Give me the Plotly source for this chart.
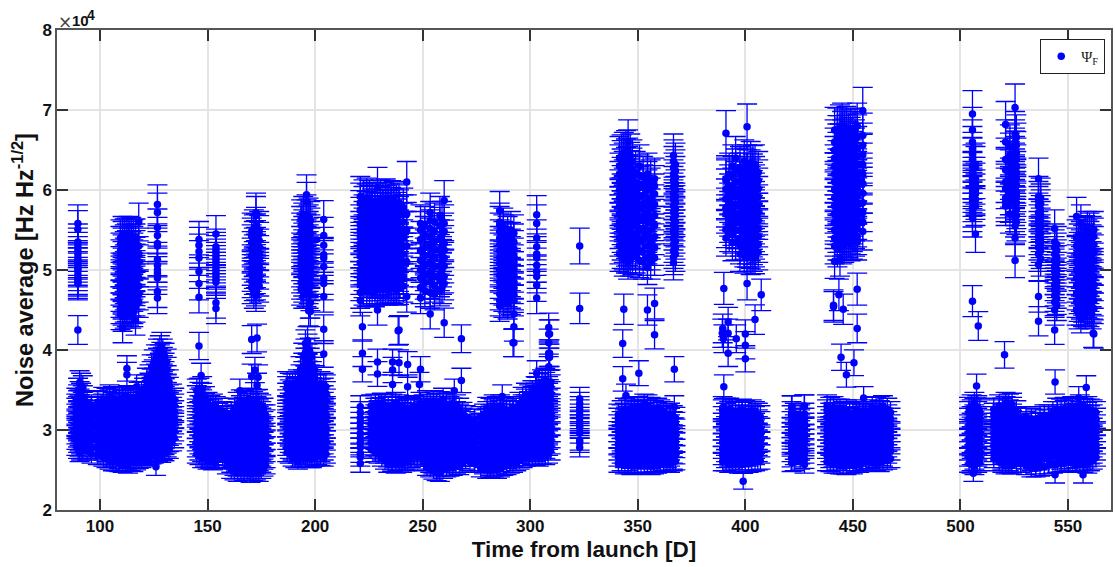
import plotly.graph_objects as go

# values are in units of 10^4; each row: (day, [noise averages read at that day])
low_a = [
 (89.0,[2.80,2.88,2.95,3.02,3.06,3.13,3.19,3.26,3.31,3.38]),
 (90.5,[2.72,2.79,2.86,2.93,3.00,3.08,3.15,3.22,3.30,3.37,3.46,3.59]),
 (92.0,[2.76,2.84,2.90,2.98,3.04,3.11,3.17,3.24,3.33,3.41,3.53]),
 (96.0,[2.70,2.78,2.87,2.94,3.02,3.09,3.16,3.23,3.30]),
 (101.5,[2.66,2.74,2.82,2.90,2.97,3.03,3.10,3.17,3.24,3.31,3.39]),
 (104.5,[2.62,2.70,2.79,2.86,2.94,3.01,3.08,3.15,3.23,3.30,3.37,3.42]),
 (107.5,[2.60,2.68,2.76,2.84,2.91,2.99,3.06,3.14,3.21,3.28,3.36]),
 (110.5,[2.58,2.65,2.73,2.82,2.90,2.97,3.05,3.12,3.20,3.27,3.35,3.40]),
 (113.0,[2.57,2.64,2.72,2.81,2.88,2.96,3.04,3.11,3.19,3.26,3.33,3.41]),
 (115.5,[2.59,2.67,2.75,2.83,2.91,2.98,3.06,3.13,3.21,3.29,3.36]),
 (118.0,[2.63,2.71,2.78,2.86,2.93,3.00,3.08,3.15,3.22,3.30,3.38,3.45]),
 (120.5,[2.66,2.73,2.81,2.88,2.96,3.03,3.11,3.18,3.26,3.34,3.42,3.50]),
 (123.0,[2.68,2.76,2.83,2.91,2.99,3.06,3.14,3.22,3.30,3.38,3.46,3.56,3.66]),
 (125.0,[2.70,2.78,2.86,2.94,3.02,3.10,3.18,3.26,3.34,3.43,3.52,3.62,3.72,3.84]),
 (127.0,[2.72,2.80,2.88,2.97,3.05,3.13,3.21,3.30,3.38,3.47,3.56,3.65,3.75,3.86,3.97]),
 (128.5,[2.71,2.79,2.87,2.96,3.04,3.12,3.20,3.28,3.37,3.46,3.54,3.63,3.73,3.83,3.93,4.05]),
 (130.0,[2.73,2.81,2.89,2.98,3.06,3.14,3.23,3.31,3.40,3.50,3.60,3.70,3.80,3.92]),
 (132.0,[2.76,2.85,2.93,3.01,3.09,3.17,3.25,3.33,3.42,3.51,3.60]),
 (133.5,[2.86,2.95,3.04,3.12,3.20,3.27,3.35,3.43]),
]
low_a2 = [
 (89.8,[2.76,2.84,2.91,2.99,3.04,3.10,3.16,3.23,3.28,3.35,3.42,3.50]),
 (91.2,[2.74,2.82,2.88,2.96,3.02,3.09,3.20,3.27,3.35,3.44,3.56]),
 (94.0,[2.74,2.82,2.91,2.98,3.05,3.12,3.19,3.27,3.34]),
 (99.0,[2.68,2.76,2.84,2.92,3.00,3.07,3.14,3.21,3.28,3.35]),
 (103.0,[2.64,2.72,2.84,2.92,3.00,3.06,3.13,3.20,3.27,3.34,3.38]),
 (106.0,[2.60,2.66,2.74,2.82,2.90,2.97,3.04,3.11,3.19,3.26,3.33,3.40]),
 (109.0,[2.59,2.63,2.71,2.80,2.88,2.95,3.03,3.10,3.17,3.25,3.32,3.39]),
 (111.8,[2.61,2.69,2.77,2.86,2.94,3.01,3.08,3.16,3.23,3.31,3.37]),
 (114.3,[2.60,2.68,2.76,2.85,2.92,3.00,3.07,3.15,3.23,3.30,3.38]),
 (116.8,[2.61,2.70,2.79,2.87,2.95,3.02,3.10,3.17,3.25,3.33,3.40]),
 (119.3,[2.64,2.69,2.75,2.84,2.92,2.99,3.06,3.13,3.20,3.28,3.36,3.46]),
 (121.8,[2.67,2.77,2.85,2.92,3.00,3.07,3.15,3.22,3.30,3.38,3.46,3.54,3.62]),
 (124.0,[2.69,2.72,2.80,2.87,2.95,3.02,3.10,3.18,3.26,3.34,3.42,3.51,3.61,3.70,3.78]),
 (126.0,[2.71,2.74,2.82,2.90,2.98,3.06,3.14,3.22,3.30,3.39,3.48,3.57,3.67,3.78,3.90]),
 (127.8,[2.76,2.84,2.92,3.01,3.09,3.17,3.25,3.34,3.42,3.51,3.60,3.69,3.80,3.90,4.01]),
 (129.2,[2.75,2.83,2.91,3.00,3.08,3.16,3.24,3.32,3.41,3.50,3.58,3.67,3.77,3.87,3.97]),
 (131.0,[2.78,2.83,2.95,3.03,3.11,3.19,3.27,3.35,3.45,3.55,3.65,3.75,3.85]),
 (134.5,[2.90,2.99,3.08,3.16,3.23,3.31,3.38]),
]
low_b = [
 (145.0,[2.70,2.78,2.86,2.94,3.02,3.10,3.17,3.25,3.33,3.41,3.49]),
 (147.5,[2.64,2.72,2.80,2.88,2.96,3.04,3.12,3.20,3.28,3.36,3.44,3.52]),
 (150.0,[2.62,2.70,2.78,2.85,2.93,3.01,3.09,3.17,3.25,3.33]),
 (152.5,[2.61,2.68,2.76,2.84,2.92,3.00,3.08,3.16,3.24,3.31]),
 (155.0,[2.63,2.71,2.80,2.88,2.96,3.04,3.12,3.20,3.26]),
 (161.0,[2.50,2.58,2.66,2.74,2.82,2.90,2.98,3.06,3.14,3.21]),
 (164.0,[2.46,2.53,2.61,2.69,2.77,2.85,2.93,3.01,3.09,3.17,3.25,3.33]),
 (167.0,[2.47,2.55,2.63,2.71,2.79,2.87,2.95,3.03,3.11,3.19,3.27,3.35]),
 (170.0,[2.45,2.52,2.60,2.68,2.76,2.84,2.92,3.00,3.08,3.16,3.24,3.32,3.38]),
 (172.5,[2.48,2.56,2.64,2.72,2.80,2.88,2.96,3.04,3.12,3.20,3.28,3.36]),
 (175.0,[2.50,2.58,2.66,2.74,2.82,2.90,2.98,3.06,3.14,3.22,3.30]),
 (177.0,[2.56,2.64,2.72,2.80,2.88,2.96,3.04,3.12,3.18]),
]
low_b2 = [
 (146.2,[2.68,2.74,2.82,2.90,2.98,3.06,3.14,3.21,3.29,3.37,3.45,3.50]),
 (148.8,[2.66,2.76,2.84,2.92,3.00,3.08,3.16,3.24,3.32,3.40]),
 (151.3,[2.63,2.66,2.74,2.81,2.89,2.97,3.05,3.13,3.21,3.29]),
 (153.8,[2.62,2.64,2.72,2.80,2.88,2.96,3.04,3.12,3.20,3.28]),
 (157.0,[2.67,2.75,2.84,2.92,3.00,3.08,3.16,3.22]),
 (159.0,[2.56,2.63,2.71,2.79,2.87,2.95,3.03,3.11,3.17]),
 (162.5,[2.48,2.54,2.62,2.70,2.78,2.86,2.94,3.02,3.10,3.18,3.26]),
 (165.5,[2.50,2.57,2.65,2.73,2.81,2.89,2.97,3.05,3.13,3.21,3.29,3.36]),
 (168.5,[2.49,2.59,2.67,2.75,2.83,2.91,2.99,3.07,3.15,3.23,3.31]),
 (171.2,[2.47,2.54,2.62,2.70,2.78,2.86,2.94,3.02,3.10,3.18,3.26,3.34]),
 (173.8,[2.46,2.60,2.68,2.76,2.84,2.92,3.00,3.08,3.16,3.24,3.32]),
 (176.0,[2.53,2.62,2.70,2.78,2.86,2.94,3.02,3.10,3.18,3.26]),
]
low_c = [
 (187.0,[2.72,2.80,2.88,2.96,3.04,3.12,3.20,3.28,3.36,3.44,3.52,3.58]),
 (189.5,[2.66,2.74,2.82,2.90,2.98,3.06,3.14,3.22,3.30,3.38,3.46,3.55]),
 (192.0,[2.62,2.70,2.78,2.87,2.95,3.03,3.11,3.19,3.27,3.35,3.43,3.51,3.60]),
 (194.5,[2.68,2.76,2.84,2.92,3.01,3.09,3.17,3.26,3.34,3.42,3.51,3.60,3.70,3.80,3.92]),
 (196.5,[2.66,2.74,2.83,2.91,2.99,3.08,3.16,3.25,3.33,3.42,3.51,3.60,3.70,3.80,3.91,4.03,4.12]),
 (198.5,[2.64,2.72,2.80,2.89,2.98,3.06,3.15,3.23,3.32,3.41,3.50,3.60,3.70,3.81,3.92]),
 (201.0,[2.68,2.76,2.85,2.93,3.02,3.10,3.19,3.27,3.36,3.45,3.54]),
 (204.0,[2.66,2.74,2.82,2.91,2.99,3.07,3.16,3.24,3.33,3.41,3.50,3.56]),
]
low_c2 = [
 (188.2,[2.70,2.76,2.84,2.92,3.00,3.08,3.16,3.24,3.32,3.40,3.48,3.56]),
 (190.8,[2.64,2.72,2.80,2.86,2.94,3.02,3.10,3.18,3.26,3.34,3.42,3.50,3.58]),
 (193.2,[2.66,2.74,2.83,2.91,2.99,3.07,3.15,3.23,3.31,3.39,3.47,3.56,3.66,3.76]),
 (195.5,[2.65,2.72,2.80,2.88,2.97,3.05,3.13,3.22,3.30,3.38,3.47,3.56,3.65,3.75,3.86,3.97,4.08]),
 (197.5,[2.64,2.70,2.78,2.87,2.95,3.04,3.12,3.21,3.29,3.38,3.46,3.55,3.65,3.75,3.86,3.98]),
 (199.8,[2.66,2.78,2.84,2.94,3.02,3.11,3.19,3.28,3.37,3.46,3.55,3.65,3.75]),
 (202.5,[2.67,2.72,2.81,2.89,2.97,3.06,3.14,3.23,3.31,3.40,3.49,3.58]),
 (205.0,[2.70,2.78,2.87,2.95,3.03,3.12,3.20,3.28,3.37,3.46,3.54]),
]
low_d = [
 (221.0,[2.58,2.66,2.71,2.78,2.84,2.90,2.96,3.03,3.09,3.15,3.22,3.29]),
 (228.0,[2.72,2.80,2.88,2.95,3.03,3.10,3.18,3.26,3.31]),
 (231.0,[2.66,2.74,2.82,2.90,2.97,3.05,3.12,3.20,3.27,3.32]),
 (234.0,[2.58,2.65,2.73,2.81,2.89,2.96,3.04,3.12,3.20,3.28]),
 (237.5,[2.57,2.64,2.72,2.80,2.88,2.96,3.04,3.12,3.19,3.27,3.33]),
 (240.5,[2.58,2.66,2.74,2.82,2.90,2.98,3.06,3.14,3.21,3.28]),
 (243.0,[2.62,2.70,2.78,2.86,2.94,3.02,3.10,3.17,3.25]),
 (246.0,[2.68,2.76,2.84,2.92,3.00,3.08,3.16,3.24,3.29]),
 (249.0,[2.68,2.76,2.84,2.92,3.00,3.08,3.16,3.24,3.33]),
 (252.0,[2.54,2.62,2.70,2.78,2.86,2.94,3.02,3.10,3.18,3.26,3.35]),
 (255.0,[2.49,2.56,2.64,2.72,2.80,2.88,2.96,3.04,3.12,3.20,3.28,3.35]),
 (258.0,[2.46,2.54,2.62,2.70,2.78,2.86,2.94,3.02,3.10,3.18,3.26,3.34]),
 (261.0,[2.52,2.60,2.68,2.76,2.84,2.92,3.00,3.08,3.16,3.24,3.32]),
 (264.0,[2.54,2.62,2.70,2.78,2.86,2.94,3.02,3.10,3.18,3.26,3.33]),
 (267.0,[2.55,2.63,2.71,2.79,2.87,2.95,3.03,3.11,3.19,3.26]),
 (270.0,[2.62,2.70,2.78,2.86,2.94,3.02,3.10,3.17]),
 (274.0,[2.58,2.66,2.74,2.82,2.90,2.98,3.06,3.13]),
]
low_d2 = [
 (226.0,[2.76,2.84,2.92,2.99,3.07,3.14,3.22,3.30]),
 (229.5,[2.70,2.78,2.86,2.92,3.00,3.08,3.15,3.23,3.30]),
 (232.5,[2.62,2.70,2.78,2.86,2.94,3.01,3.08,3.16,3.24,3.31]),
 (235.8,[2.59,2.61,2.69,2.77,2.85,2.92,3.00,3.08,3.16,3.24,3.31]),
 (239.0,[2.60,2.68,2.76,2.84,2.92,3.00,3.08,3.16,3.23,3.30]),
 (241.8,[2.60,2.62,2.70,2.78,2.86,2.94,3.02,3.10,3.18,3.25]),
 (244.5,[2.64,2.72,2.80,2.88,2.96,3.04,3.12,3.20,3.27]),
 (247.5,[2.66,2.72,2.80,2.88,2.96,3.04,3.12,3.20,3.28]),
 (250.5,[2.60,2.66,2.74,2.82,2.90,2.98,3.06,3.14,3.22,3.30]),
 (253.5,[2.52,2.58,2.66,2.74,2.82,2.90,2.98,3.06,3.14,3.22,3.31]),
 (256.5,[2.47,2.60,2.68,2.76,2.84,2.92,3.00,3.08,3.16,3.24,3.32]),
 (259.5,[2.50,2.58,2.66,2.74,2.82,2.90,2.98,3.06,3.14,3.22,3.30,3.38]),
 (262.5,[2.53,2.64,2.72,2.80,2.88,2.96,3.04,3.12,3.20,3.28]),
 (265.5,[2.56,2.66,2.74,2.82,2.90,2.98,3.06,3.14,3.22,3.30]),
 (268.5,[2.58,2.66,2.74,2.82,2.90,2.98,3.06,3.14,3.21]),
 (272.0,[2.60,2.66,2.74,2.82,2.90,2.98,3.06,3.13]),
]
low_e = [
 (277.0,[2.52,2.60,2.68,2.76,2.84,2.92,3.00,3.08,3.16]),
 (280.0,[2.50,2.58,2.66,2.74,2.82,2.90,2.98,3.06,3.14,3.22,3.27]),
 (283.0,[2.52,2.60,2.68,2.76,2.84,2.92,3.00,3.08,3.16,3.24,3.30]),
 (286.0,[2.52,2.59,2.67,2.75,2.83,2.91,2.99,3.07,3.15,3.23,3.30]),
 (289.0,[2.55,2.63,2.71,2.79,2.87,2.95,3.03,3.11,3.19,3.25]),
 (292.0,[2.58,2.66,2.74,2.82,2.90,2.98,3.06,3.14,3.22,3.28]),
 (295.0,[2.62,2.70,2.78,2.86,2.94,3.02,3.10,3.18,3.26,3.33]),
 (298.0,[2.66,2.74,2.82,2.90,2.98,3.06,3.14,3.22,3.30,3.37,3.44]),
 (301.0,[2.68,2.76,2.84,2.92,3.00,3.08,3.16,3.24,3.32,3.40,3.47]),
 (304.0,[2.66,2.74,2.82,2.90,2.98,3.06,3.14,3.22,3.30,3.38,3.47,3.56]),
 (307.0,[2.68,2.76,2.84,2.92,3.00,3.08,3.16,3.24,3.32,3.40,3.48,3.57,3.62]),
 (309.5,[2.74,2.82,2.90,2.98,3.06,3.14,3.22,3.30,3.38,3.46,3.54,3.60]),
 (323.0,[2.78,2.84,2.87,2.96,3.03,3.06,3.10,3.15,3.19,3.24,3.28,3.33,3.39]),
]
low_e2 = [
 (278.5,[2.56,2.64,2.72,2.80,2.88,2.96,3.04,3.12,3.19]),
 (281.5,[2.51,2.54,2.62,2.70,2.78,2.86,2.94,3.02,3.10,3.18,3.26]),
 (284.5,[2.50,2.56,2.64,2.72,2.80,2.88,2.96,3.04,3.12,3.20,3.28]),
 (287.5,[2.54,2.63,2.71,2.79,2.87,2.95,3.03,3.11,3.19,3.27]),
 (290.5,[2.57,2.67,2.75,2.83,2.91,2.99,3.07,3.15,3.23]),
 (293.5,[2.60,2.70,2.78,2.86,2.94,3.02,3.10,3.18,3.26]),
 (296.5,[2.64,2.74,2.82,2.90,2.98,3.06,3.14,3.22,3.30,3.39]),
 (299.5,[2.67,2.70,2.78,2.86,2.94,3.02,3.10,3.18,3.26,3.34,3.42]),
 (302.5,[2.67,2.72,2.80,2.88,2.96,3.04,3.12,3.20,3.28,3.36,3.44,3.52]),
 (305.5,[2.69,2.78,2.86,2.94,3.02,3.10,3.18,3.26,3.34,3.43,3.52,3.60]),
 (308.3,[2.70,2.80,2.88,2.96,3.04,3.12,3.20,3.28,3.36,3.44,3.52,3.60]),
]
low_f = [
 (341.0,[2.58,2.66,2.74,2.82,2.90,2.98,3.06,3.14,3.19]),
 (344.0,[2.56,2.64,2.72,2.80,2.88,2.96,3.04,3.12,3.20,3.26]),
 (347.0,[2.55,2.63,2.71,2.79,2.87,2.95,3.03,3.11,3.19,3.27]),
 (350.0,[2.58,2.66,2.74,2.82,2.90,2.98,3.06,3.14,3.22,3.28]),
 (353.0,[2.56,2.64,2.72,2.80,2.88,2.96,3.04,3.12,3.20,3.27,3.31]),
 (356.0,[2.55,2.63,2.71,2.79,2.87,2.95,3.03,3.11,3.19,3.27]),
 (359.0,[2.57,2.65,2.73,2.81,2.89,2.97,3.05,3.13,3.21,3.26]),
 (362.0,[2.60,2.68,2.76,2.84,2.92,3.00,3.08,3.16,3.22]),
 (365.0,[2.58,2.66,2.74,2.82,2.90,2.98,3.06,3.14,3.20]),
 (367.5,[2.61,2.69,2.77,2.85,2.93,3.01,3.09,3.15]),
]
low_f2 = [
 (342.5,[2.60,2.70,2.78,2.86,2.94,3.02,3.10,3.18,3.23]),
 (345.5,[2.57,2.60,2.68,2.76,2.84,2.92,3.00,3.08,3.16,3.24]),
 (348.5,[2.56,2.67,2.75,2.83,2.91,2.99,3.07,3.15,3.23,3.28]),
 (351.5,[2.57,2.62,2.70,2.78,2.86,2.94,3.02,3.10,3.18,3.25]),
 (354.5,[2.58,2.68,2.76,2.84,2.92,3.00,3.08,3.16,3.24,3.30]),
 (357.5,[2.56,2.59,2.67,2.75,2.83,2.91,2.99,3.07,3.15,3.23]),
 (360.5,[2.58,2.61,2.69,2.77,2.85,2.93,3.01,3.09,3.17,3.24]),
 (363.5,[2.59,2.64,2.72,2.80,2.88,2.96,3.04,3.12,3.19]),
 (366.3,[2.60,2.62,2.70,2.78,2.86,2.94,3.02,3.10,3.17]),
]
low_g = [
 (389.5,[2.60,2.68,2.76,2.84,2.92,3.00,3.08,3.16,3.24,3.28]),
 (392.5,[2.58,2.66,2.74,2.82,2.90,2.98,3.06,3.14,3.22,3.26]),
 (395.5,[2.58,2.65,2.73,2.81,2.89,2.97,3.05,3.13,3.21]),
 (398.5,[2.57,2.65,2.73,2.81,2.89,2.97,3.05,3.13,3.21,3.25]),
 (401.5,[2.58,2.66,2.74,2.82,2.90,2.98,3.06,3.14,3.22]),
 (404.5,[2.60,2.68,2.76,2.84,2.92,3.00,3.08,3.16,3.22]),
 (407.0,[2.62,2.70,2.78,2.86,2.94,3.02,3.10,3.17]),
 (421.5,[2.59,2.65,2.72,2.79,2.84,2.92,2.97,3.03,3.10,3.17,3.22,3.29]),
 (427.5,[2.57,2.63,2.70,2.76,2.83,2.89,2.95,3.02,3.08,3.14,3.20,3.30]),
]
low_g2 = [
 (391.0,[2.60,2.64,2.72,2.80,2.88,2.96,3.04,3.12,3.20,3.26]),
 (394.0,[2.59,2.62,2.70,2.78,2.86,2.94,3.02,3.10,3.18,3.24]),
 (397.0,[2.57,2.61,2.69,2.77,2.85,2.93,3.01,3.09,3.17,3.24]),
 (400.0,[2.58,2.61,2.69,2.77,2.85,2.93,3.01,3.09,3.17,3.23]),
 (403.0,[2.59,2.70,2.78,2.86,2.94,3.02,3.10,3.18,3.24]),
 (405.8,[2.61,2.72,2.80,2.88,2.96,3.04,3.12,3.20]),
 (423.0,[2.60,2.68,2.75,2.82,2.88,2.95,3.00,3.06,3.13,3.20]),
 (425.5,[2.62,2.69,2.74,2.80,2.87,2.93,2.99,3.06,3.12,3.18]),
]
low_h = [
 (438.0,[2.60,2.68,2.76,2.84,2.92,3.00,3.08,3.16,3.24,3.30]),
 (441.0,[2.57,2.65,2.73,2.81,2.89,2.97,3.05,3.13,3.21,3.28]),
 (444.0,[2.56,2.64,2.72,2.80,2.88,2.96,3.04,3.12,3.20,3.25]),
 (447.0,[2.55,2.63,2.71,2.79,2.87,2.95,3.03,3.11,3.19,3.24]),
 (450.0,[2.56,2.64,2.72,2.80,2.88,2.96,3.04,3.12,3.20]),
 (453.0,[2.58,2.66,2.74,2.82,2.90,2.98,3.06,3.14,3.22]),
 (456.0,[2.62,2.70,2.78,2.86,2.94,3.02,3.10,3.18,3.22]),
 (459.0,[2.60,2.68,2.76,2.84,2.92,3.00,3.08,3.16,3.24,3.28]),
 (462.5,[2.59,2.67,2.75,2.83,2.91,2.99,3.07,3.15,3.23,3.28]),
 (466.0,[2.62,2.70,2.78,2.86,2.94,3.02,3.10,3.18,3.26]),
]
low_h2 = [
 (439.5,[2.59,2.64,2.72,2.80,2.88,2.96,3.04,3.12,3.20,3.27]),
 (442.5,[2.57,2.61,2.69,2.77,2.85,2.93,3.01,3.09,3.17,3.25]),
 (445.5,[2.56,2.60,2.68,2.76,2.84,2.92,3.00,3.08,3.16,3.22]),
 (448.5,[2.57,2.67,2.75,2.83,2.91,2.99,3.07,3.15,3.21]),
 (451.5,[2.58,2.60,2.68,2.76,2.84,2.92,3.00,3.08,3.16,3.24]),
 (454.5,[2.60,2.62,2.70,2.78,2.86,2.94,3.02,3.10,3.18]),
 (457.5,[2.63,2.66,2.74,2.82,2.90,2.98,3.06,3.14,3.20]),
 (460.8,[2.60,2.64,2.72,2.80,2.88,2.96,3.04,3.12,3.20,3.27]),
 (464.0,[2.61,2.66,2.74,2.82,2.90,2.98,3.06,3.14,3.22,3.29]),
 (467.5,[2.64,2.74,2.82,2.90,2.98,3.06,3.14,3.22]),
]
low_i = [
 (504.0,[2.58,2.66,2.74,2.82,2.90,2.98,3.06,3.14,3.22,3.27]),
 (506.5,[2.55,2.62,2.70,2.78,2.86,2.94,3.02,3.10,3.18,3.26,3.33]),
 (509.0,[2.60,2.68,2.76,2.84,2.92,3.00,3.08,3.16,3.24]),
 (518.0,[2.60,2.68,2.76,2.84,2.92,3.00,3.08,3.16,3.24,3.30]),
 (521.0,[2.56,2.64,2.72,2.80,2.88,2.96,3.04,3.12,3.20,3.28,3.33]),
 (524.0,[2.56,2.63,2.71,2.79,2.87,2.95,3.03,3.11,3.19,3.27,3.32]),
 (528.0,[2.58,2.66,2.74,2.82,2.90,2.98,3.06,3.14]),
 (533.0,[2.52,2.60,2.68,2.76,2.84,2.92,3.00,3.08,3.14]),
 (537.0,[2.53,2.61,2.69,2.77,2.85,2.93,3.01,3.09,3.16]),
 (541.0,[2.56,2.64,2.72,2.80,2.88,2.96,3.04,3.12,3.18]),
 (545.0,[2.58,2.66,2.74,2.82,2.90,2.98,3.06,3.14,3.22,3.26]),
 (548.5,[2.59,2.67,2.75,2.83,2.91,2.99,3.07,3.15,3.23,3.27]),
 (552.0,[2.60,2.68,2.76,2.84,2.92,3.00,3.08,3.16,3.24,3.28]),
 (555.5,[2.58,2.66,2.74,2.82,2.90,2.98,3.06,3.14,3.22,3.30]),
 (559.0,[2.57,2.65,2.73,2.81,2.89,2.97,3.05,3.13,3.21,3.28]),
 (561.5,[2.62,2.70,2.78,2.86,2.94,3.02,3.10,3.18,3.24]),
]
low_i2 = [
 (505.2,[2.57,2.60,2.68,2.76,2.84,2.92,3.00,3.08,3.16,3.24,3.30]),
 (507.8,[2.58,2.66,2.74,2.82,2.90,2.98,3.06,3.14,3.22,3.29]),
 (515.5,[2.64,2.72,2.80,2.88,2.96,3.04,3.12,3.20,3.26]),
 (519.5,[2.58,2.62,2.70,2.78,2.86,2.94,3.02,3.10,3.18,3.26]),
 (522.5,[2.57,2.60,2.68,2.76,2.84,2.92,3.00,3.08,3.16,3.24,3.31]),
 (526.0,[2.58,2.67,2.75,2.83,2.91,2.99,3.07,3.15,3.23]),
 (530.5,[2.55,2.62,2.70,2.78,2.86,2.94,3.02,3.10,3.16]),
 (535.0,[2.52,2.56,2.64,2.72,2.80,2.88,2.96,3.04,3.12]),
 (539.0,[2.54,2.65,2.73,2.81,2.89,2.97,3.05,3.13,3.18]),
 (543.0,[2.57,2.68,2.76,2.84,2.92,3.00,3.08,3.16,3.22]),
 (546.8,[2.58,2.62,2.70,2.78,2.86,2.94,3.02,3.10,3.18,3.25]),
 (550.2,[2.60,2.63,2.71,2.79,2.87,2.95,3.03,3.11,3.19,3.26]),
 (553.8,[2.59,2.64,2.72,2.80,2.88,2.96,3.04,3.12,3.20,3.27]),
 (557.2,[2.58,2.62,2.70,2.78,2.86,2.94,3.02,3.10,3.18,3.26]),
 (560.2,[2.60,2.69,2.77,2.85,2.93,3.01,3.09,3.17,3.25]),
 (563.0,[2.66,2.74,2.82,2.90,2.98,3.06,3.14,3.22]),
]
high_a = [
 (89.7,[4.25,4.83,4.85,4.88,4.90,4.95,5.00,5.02,5.06,5.10,5.12,5.15,5.20,5.25,5.30,5.35,5.51,5.58]),
 (109.5,[4.44,4.52,4.60,4.68,4.76,4.84,4.92,5.00,5.08,5.16,5.24,5.32,5.40]),
 (110.5,[4.27,4.42,4.50,4.58,4.66,4.74,4.82,4.90,4.98,5.06,5.14,5.22,5.30,5.38,5.44]),
 (111.5,[4.46,4.54,4.62,4.70,4.78,4.86,4.94,5.02,5.10,5.18,5.26,5.34,5.41]),
 (112.5,[4.48,4.55,4.63,4.71,4.79,4.87,4.95,5.03,5.11,5.19,5.27,5.35,5.42]),
 (113.5,[4.50,4.58,4.66,4.74,4.82,4.90,4.98,5.06,5.14,5.22,5.30,5.38,5.44]),
 (114.5,[4.46,4.54,4.62,4.70,4.78,4.86,4.94,5.02,5.10,5.18,5.26,5.34,5.43]),
 (115.5,[4.48,4.52,4.60,4.68,4.76,4.84,4.92,5.00,5.08,5.16,5.24,5.32,5.40]),
 (116.5,[4.37,4.54,4.62,4.71,4.79,4.87,4.95,5.03,5.11,5.19,5.27,5.35,5.41]),
 (118.0,[4.60,4.70,4.80,4.90,5.00,5.10,5.20,5.30,5.60]),
 (126.7,[4.65,4.73,4.90,4.96,5.00,5.06,5.13,5.30,5.33,5.43,5.53,5.72,5.82]),
 (146.0,[4.66,4.83,4.98,5.15,5.23,5.31,5.38]),
 (153.9,[4.52,4.59,4.85,4.89,4.93,4.97,5.01,5.05,5.09,5.13,5.17,5.21,5.25,5.29,5.45]),
 (170.5,[4.78,4.86,4.94,5.02,5.10,5.18,5.26,5.34,5.42,5.48]),
 (171.5,[4.72,4.82,4.90,4.98,5.06,5.14,5.22,5.30,5.38,5.46,5.52]),
 (172.5,[4.68,4.75,4.83,4.91,4.99,5.07,5.15,5.23,5.31,5.39,5.47,5.55,5.68,5.72]),
 (174.0,[4.80,4.88,4.97,5.05,5.13,5.21,5.29,5.37,5.45,5.50]),
 (193.5,[4.76,4.84,4.92,5.00,5.08,5.16,5.24,5.32,5.40,5.48,5.56,5.64]),
 (194.5,[4.72,4.80,4.88,4.96,5.04,5.12,5.20,5.28,5.36,5.44,5.52,5.60,5.68]),
 (196.0,[4.74,4.84,4.92,5.00,5.08,5.16,5.24,5.32,5.40,5.48,5.56,5.64,5.70,5.85,5.94]),
 (197.0,[4.72,4.78,4.86,4.94,5.02,5.10,5.18,5.26,5.34,5.42,5.50,5.58,5.66]),
 (197.8,[4.48,4.59,4.69,4.82,4.90,4.98,5.06,5.14,5.22,5.30,5.38,5.46,5.54,5.62]),
 (204.0,[4.67,4.83,4.90,5.04,5.15,5.19,5.31,5.43,5.63]),
]
high_b = [
 (221.0,[4.62,4.72,4.82,4.90,5.00,5.08,5.17,5.25,5.33,5.42,5.50,5.58,5.67,5.75,5.84,5.92]),
 (222.5,[4.76,4.86,4.95,5.03,5.12,5.21,5.29,5.38,5.46,5.54,5.62,5.70,5.80,5.88]),
 (224.0,[4.74,4.82,4.91,4.99,5.07,5.16,5.24,5.32,5.41,5.49,5.57,5.66,5.74,5.83,5.90]),
 (225.3,[4.76,4.88,4.97,5.05,5.14,5.22,5.30,5.38,5.47,5.55,5.64,5.72,5.81,5.87]),
 (226.5,[4.78,4.86,4.94,5.03,5.11,5.19,5.27,5.36,5.44,5.52,5.61,5.69,5.77,5.85]),
 (227.8,[4.74,4.82,4.90,4.99,5.07,5.15,5.23,5.32,5.40,5.48,5.57,5.65,5.73,5.81]),
 (229.0,[4.50,4.76,4.85,4.93,5.01,5.10,5.18,5.26,5.35,5.43,5.51,5.60,5.68,5.76,5.84,6.03]),
 (230.3,[4.78,4.88,4.97,5.05,5.14,5.22,5.31,5.39,5.47,5.56,5.64,5.72,5.80,5.88]),
 (231.5,[4.77,4.86,4.94,5.02,5.11,5.19,5.27,5.36,5.44,5.52,5.60,5.68,5.76,5.85]),
 (232.8,[4.80,4.90,4.98,5.06,5.15,5.23,5.32,5.40,5.48,5.56,5.64,5.73,5.81,5.89]),
 (234.0,[4.76,4.84,4.92,5.00,5.08,5.17,5.25,5.33,5.42,5.50,5.58,5.67,5.75,5.83]),
 (235.3,[4.79,4.88,4.96,5.04,5.12,5.21,5.29,5.37,5.46,5.54,5.62,5.71,5.79,5.87]),
 (236.5,[4.78,4.86,4.95,5.03,5.11,5.20,5.28,5.36,5.44,5.53,5.61,5.69,5.77,5.86]),
 (237.8,[4.76,4.82,4.91,4.99,5.07,5.16,5.24,5.32,5.40,5.49,5.57,5.65,5.73,5.82]),
 (239.0,[4.25,4.77,4.85,4.94,5.02,5.10,5.19,5.27,5.35,5.43,5.52,5.60,5.68,5.76,5.84]),
 (241.0,[4.80,4.90,5.00,5.10,5.20,5.30,5.40,5.50,5.60,5.70,5.78]),
 (242.6,[4.67,5.10,5.30,5.50,5.70,6.10]),
 (249.0,[4.65,4.78,4.90,5.00,5.12,5.24,5.38,5.50,5.58]),
 (251.0,[4.74,4.84,4.95,5.06,5.18,5.28,5.44,5.56]),
 (253.5,[4.45,4.72,4.85,4.97,5.10,5.20,5.30,5.42,5.52,5.62,5.72]),
 (255.5,[4.70,4.80,4.92,5.04,5.14,5.26,5.36,5.48,5.60]),
 (258.0,[4.75,4.87,4.95,5.05,5.25,5.40,5.55,5.68]),
 (259.0,[4.78,4.90,5.00,5.10,5.20,5.30,5.45,5.62]),
 (260.0,[4.34,4.83,4.92,5.05,5.15,5.25,5.33,5.48,5.58,5.87]),
 (285.8,[4.55,4.62,4.70,4.78,4.85,4.93,5.00,5.08,5.16,5.24,5.32,5.40,5.48,5.56,5.60,5.74]),
 (287.5,[4.60,4.68,4.76,4.83,4.91,4.98,5.06,5.14,5.22,5.30,5.38,5.46,5.54]),
 (289.5,[4.58,4.66,4.74,4.81,4.89,4.96,5.04,5.12,5.20,5.28,5.36,5.44]),
 (291.0,[4.64,4.72,4.80,4.87,4.95,5.03,5.12,5.20,5.29,5.37,5.50]),
 (292.4,[4.09,4.29,4.45,4.62,4.70,4.78,4.85,4.93,5.02,5.10,5.18,5.27,5.35,5.46]),
 (303.0,[4.65,4.81,4.92,4.98,5.06,5.15,5.20,5.29,5.40,5.58,5.69]),
 (308.6,[4.20,4.28,4.09,3.96,3.91,3.79]),
 (323.0,[4.52,5.30]),
]
high_c = [
 (341.5,[5.20,5.30,5.40,5.50,5.60,5.70,5.80,5.90,6.00,6.10,6.20,6.30,6.40]),
 (342.5,[5.24,5.35,5.45,5.55,5.65,5.75,5.85,5.95,6.05,6.15,6.25,6.35,6.42]),
 (343.5,[5.14,5.22,5.32,5.42,5.52,5.62,5.72,5.82,5.92,6.02,6.12,6.22,6.32,6.45]),
 (344.5,[5.18,5.27,5.37,5.47,5.57,5.67,5.77,5.87,5.97,6.07,6.17,6.27,6.37,6.47]),
 (345.5,[5.10,5.18,5.28,5.38,5.48,5.58,5.68,5.78,5.88,5.98,6.08,6.18,6.28,6.38,6.48,6.60]),
 (346.5,[5.14,5.23,5.33,5.43,5.53,5.63,5.73,5.83,5.93,6.03,6.13,6.23,6.33,6.43]),
 (347.5,[5.16,5.26,5.36,5.46,5.56,5.66,5.76,5.86,5.96,6.06,6.16,6.26,6.36]),
 (349.0,[5.18,5.30,5.44,5.58,5.70,5.84,5.96,6.10,6.22]),
 (350.8,[5.12,5.24,5.36,5.50,5.62,5.78,5.92,6.04,6.18,6.30]),
 (352.5,[5.10,5.22,5.38,5.52,5.66,5.80,5.93,6.06,6.16]),
 (354.5,[5.03,5.15,5.30,5.45,5.60,5.72,5.85,6.00,6.10,6.20]),
 (356.0,[5.10,5.22,5.36,5.50,5.64,5.77,5.90,6.02,6.12]),
 (357.8,[5.15,5.28,5.42,5.56,5.68,5.82,5.95,6.05,6.14]),
 (366.6,[5.09,5.16,5.24,5.32,5.40,5.48,5.56,5.64,5.72,5.80,5.88,5.96,6.04,6.12,6.20,6.28,6.36,6.43]),
 (367.5,[5.20,5.28,5.36,5.44,5.52,5.60,5.68,5.76,5.84,5.92,6.00,6.08,6.16,6.24,6.32]),
 (391.0,[5.40,5.51,5.70,5.78,5.89,6.01,6.12,6.14,6.71]),
 (392.5,[5.46,5.58,5.66,5.74,5.84,5.95,6.06,6.20]),
 (394.0,[5.34,5.44,5.54,5.62,5.72,5.82,5.92,6.02,6.16,6.30]),
 (395.5,[5.35,5.50,5.65,5.80,5.95,6.10,6.25,6.40]),
 (397.5,[5.20,5.30,5.40,5.50,5.60,5.70,5.80,5.90,6.00,6.10,6.20,6.28]),
 (399.5,[5.18,5.26,5.36,5.46,5.56,5.66,5.76,5.86,5.96,6.06,6.16,6.26,6.36]),
 (400.8,[4.83,5.20,5.30,5.40,5.50,5.60,5.70,5.80,5.90,6.00,6.10,6.20,6.30,6.79]),
 (402.5,[5.16,5.24,5.34,5.44,5.54,5.64,5.74,5.84,5.94,6.04,6.14,6.24,6.34]),
 (403.5,[5.20,5.29,5.39,5.49,5.59,5.69,5.79,5.89,5.99,6.09,6.19,6.29]),
 (404.5,[5.17,5.26,5.36,5.46,5.56,5.66,5.76,5.86,5.96,6.06,6.16,6.30]),
 (406.0,[5.22,5.32,5.42,5.52,5.62,5.72,5.82,5.92,6.02,6.12,6.22]),
 (441.5,[5.11,5.30,5.40,5.50,5.60,5.70,5.80,5.90,6.00,6.10,6.20,6.30,6.40,6.50,6.60,6.75]),
 (442.8,[5.26,5.35,5.45,5.55,5.65,5.75,5.85,5.95,6.05,6.15,6.25,6.35,6.45,6.55,6.65,6.74]),
 (444.0,[5.14,5.35,5.45,5.55,5.65,5.75,5.85,5.95,6.05,6.15,6.25,6.35,6.45,6.55,6.65,6.78]),
 (445.0,[5.30,5.40,5.50,5.60,5.70,5.80,5.90,6.00,6.10,6.20,6.30,6.40,6.50,6.60,6.70,6.80]),
 (446.0,[5.32,5.42,5.52,5.62,5.72,5.82,5.92,6.02,6.12,6.22,6.32,6.42,6.52,6.62,6.72]),
 (447.0,[5.36,5.46,5.56,5.66,5.76,5.86,5.96,6.06,6.16,6.26,6.36,6.46,6.56,6.66,6.76]),
 (448.0,[5.38,5.48,5.58,5.68,5.78,5.88,5.98,6.08,6.18,6.28,6.38,6.48,6.58,6.68]),
 (449.0,[5.34,5.43,5.53,5.63,5.73,5.83,5.93,6.03,6.13,6.23,6.33,6.43,6.53,6.63,6.73]),
 (450.0,[5.36,5.46,5.56,5.66,5.76,5.86,5.96,6.06,6.16,6.26,6.36,6.46,6.56,6.70]),
 (451.0,[5.40,5.50,5.60,5.70,5.80,5.90,6.00,6.10,6.20,6.30,6.40,6.50,6.60,6.74]),
 (452.0,[5.35,5.42,5.52,5.62,5.72,5.82,5.92,6.02,6.12,6.22,6.32,6.42,6.52,6.66,6.80]),
 (454.6,[5.48,5.60,5.72,5.84,5.96,6.08,6.20,6.32,6.44,6.56,6.68,6.99]),
]
high_d = [
 (505.6,[5.65,5.72,5.78,5.85,5.92,5.97,6.02,6.05,6.10,6.15,6.22,6.30,6.38,6.45,6.52,6.60,6.75,6.95]),
 (507.0,[5.45,5.80,5.88,5.95,6.00,6.08,6.15,6.28,6.32]),
 (521.0,[5.80,5.85,5.90,6.02,6.10,6.25,6.38,6.60,6.82]),
 (523.0,[5.70,5.84,5.94,6.04,6.14,6.24,6.34,6.44,6.54]),
 (525.4,[5.12,5.40,5.55,5.65,5.72,5.80,5.88,5.95,6.02,6.10,6.18,6.25,6.32,6.40,6.50,6.60,6.70,7.03]),
 (526.0,[5.60,5.68,5.76,5.84,5.92,5.98,6.06,6.14,6.22,6.30,6.38,6.46,6.56,6.66]),
 (536.3,[5.07,5.20,5.28,5.35,5.42,5.50,5.58,5.65,5.72,5.80,5.86,5.92,6.14]),
 (537.3,[5.14,5.24,5.32,5.38,5.46,5.54,5.62,5.69,5.76,5.83,5.90]),
 (543.8,[4.50,4.60,4.68,4.75,4.82,4.90,4.98,5.05,5.12,5.20,5.28,5.35,5.52]),
 (544.8,[4.56,4.64,4.72,4.79,4.86,4.94,5.01,5.09,5.16,5.24,5.32]),
 (554.0,[4.50,4.60,4.70,4.80,4.90,5.00,5.10,5.20,5.30,5.40,5.67]),
 (555.0,[4.45,4.55,4.65,4.75,4.85,4.95,5.05,5.15,5.25,5.35,5.44]),
 (556.0,[4.40,4.50,4.58,4.68,4.78,4.88,4.98,5.08,5.18,5.28,5.38,5.58]),
 (557.0,[4.48,4.54,4.63,4.73,4.83,4.93,5.03,5.13,5.23,5.33,5.43]),
 (558.0,[4.46,4.55,4.65,4.75,4.85,4.95,5.05,5.15,5.25,5.35,5.45]),
 (559.0,[4.50,4.60,4.70,4.80,4.90,5.00,5.10,5.20,5.30,5.40,5.50]),
 (560.0,[4.48,4.58,4.68,4.78,4.88,4.98,5.08,5.18,5.28,5.38,5.48]),
 (561.0,[4.45,4.54,4.64,4.74,4.84,4.94,5.04,5.14,5.24,5.34,5.44]),
 (562.0,[4.20,4.52,4.62,4.72,4.82,4.92,5.02,5.12,5.22,5.32,5.42,5.50]),
]
outlier_days = [112.5,112.5,117,126,146,147,165,170.5,173,172,170.5,173.5,173,197.5,197,204,204,
 222,222,222,229,229,238.6,236,239,243,236,236,249,248.5,243,268,268,264.7,292,287,
 309,309,309,303,303,343,343,344.5,357.8,350.5,367,367,343.5,354.5,357.8,
 390,392,389.5,392,389.3,389.8,392,390,395.8,400,400,400,399,404.5,407.4,
 443.5,441,441,445.5,444.5,450.5,447,452,452,455,421.7,427.4,
 505.6,508.3,507.5,506,520.5,536.3,536.3,544,543.8,558.5,555,561.7,544,557]
outlier_vals = [3.77,3.69,3.54,2.54,4.05,3.68,3.49,4.13,4.15,3.75,3.67,3.66,3.56,4.59,4.49,4.26,3.95,
 4.29,3.96,3.76,3.85,3.70,4.24,3.85,3.84,3.82,3.75,3.57,3.76,3.57,3.54,4.14,3.62,3.49,4.09,3.42,
 4.20,3.96,3.91,3.71,3.51,4.08,3.64,3.43,4.19,3.71,3.76,3.29,4.51,4.50,4.58,
 4.77,4.35,4.27,4.21,4.21,4.14,3.96,3.54,4.14,4.20,4.06,3.89,2.36,4.38,4.69,
 4.69,4.56,4.54,4.51,3.91,3.84,3.69,4.76,4.27,3.40,3.29,3.30,
 4.61,4.30,3.55,2.46,3.94,4.67,4.36,3.60,4.25,3.53,3.40,4.21,2.44,2.44]

x_ticks = [100,150,200,250,300,350,400,450,500,550]
y_ticks = [2,3,4,5,6,7,8]
all_rows = (low_a+low_a2+low_b+low_b2+low_c+low_c2+low_d+low_d2+low_e+low_e2+low_f+low_f2+
            low_g+low_g2+low_h+low_h2+low_i+low_i2+high_a+high_b+high_c+high_d)
days, noise = [], []
for d, vals in all_rows:
    days += [d]*len(vals)
    noise += vals
days += outlier_days
noise += outlier_vals

fig = go.Figure(go.Scatter(
    x=days, y=noise, mode="markers", name="Ψ<sub>F</sub>",
    marker=dict(color="#0000ff", size=7.5),
    error_y=dict(type="percent", value=4.2, color="#0000ff", thickness=1.3, width=10),
    showlegend=True))

ax = dict(showline=True, linecolor="#555", linewidth=1.5, mirror="allticks", ticks="inside",
          ticklen=11, tickcolor="#333", tickwidth=1.5, showgrid=True, gridcolor="#e4e4e4",
          gridwidth=1.5, zeroline=False, tickfont=dict(family="Liberation Sans", size=17, weight=700, color="#111"))
fig.update_xaxes(range=[80,570], tickvals=x_ticks,
    title=dict(text="Time from launch [D]", font=dict(family="Liberation Sans", size=22.5, weight=700, color="#111"), standoff=6), **ax)
fig.update_yaxes(range=[2,8], tickvals=y_ticks,
    title=dict(text="Noise average [Hz Hz<sup>-1/2</sup>]", font=dict(family="Liberation Sans", size=23.5, weight=700, color="#111"), standoff=2), **ax)
fig.update_layout(
    width=1115, height=567, margin=dict(l=57,r=2,t=30,b=57), autosize=False,
    paper_bgcolor="white", plot_bgcolor="white", font=dict(family="Liberation Sans"),
    legend=dict(x=0.9945, xanchor="right", y=0.981, yanchor="top", bgcolor="white",
        bordercolor="#222", borderwidth=1, font=dict(family="Liberation Serif", size=15, color="#222"),
        itemwidth=30),
    annotations=[
      dict(text="×", xref="paper", yref="paper", x=0, y=1, xanchor="left", yanchor="bottom", showarrow=False,
           xshift=-1, yshift=-4, font=dict(family="DejaVu Sans", size=17, color="#444")),
      dict(text="10", xref="paper", yref="paper", x=0, y=1, xanchor="left", yanchor="bottom", showarrow=False,
           xshift=13, yshift=-1, font=dict(family="Liberation Sans", size=15, weight=700, color="#111")),
      dict(text="4", xref="paper", yref="paper", x=0, y=1, xanchor="left", yanchor="bottom", showarrow=False,
           xshift=28, yshift=5, font=dict(family="Liberation Sans", size=14, weight=700, color="#111")),
    ])
fig.write_html("out.html", config={"displayModeBar": False},
               post_script="document.body.style.margin='0';document.documentElement.style.overflow='hidden';")
